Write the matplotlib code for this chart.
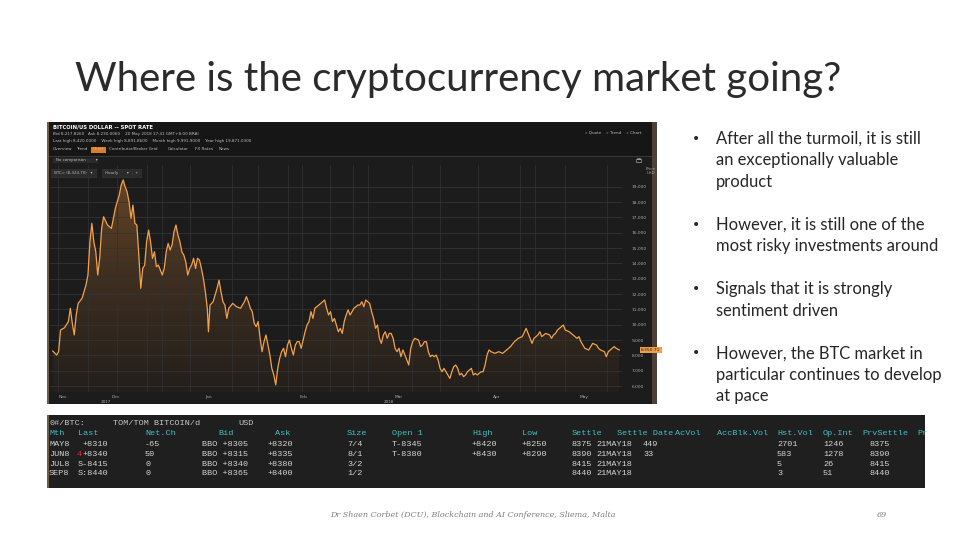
import matplotlib
matplotlib.use("Agg")
import matplotlib.pyplot as plt
import numpy as np
from matplotlib.colors import LinearSegmentedColormap
from matplotlib.patches import Rectangle, Polygon

# slide text
title = "Where is the cryptocurrency market going?"
bullets = [
    ["After all the turmoil, it is still", "an exceptionally valuable", "product"],
    ["However, it is still one of the", "most risky investments around"],
    ["Signals that it is strongly", "sentiment driven"],
    ["However, the BTC market in", "particular continues to develop", "at pace"],
]
footer = "Dr Shaen Corbet (DCU), Blockchain and AI Conference, Sliema, Malta"
page_no = "69"

# price chart (hourly BTC)
t = [20, 30, 35, 40, 50, 60, 65, 70, 75, 80, 85, 95, 105, 110, 115, 120, 125, 130,
     135, 140, 145, 150, 160, 170, 180, 185, 190, 195, 200, 205, 210, 215, 220, 225,
     230, 235, 240, 245, 250, 255, 260, 265, 270, 275, 280, 285, 290, 300, 305, 310,
     315, 320, 325, 330, 335, 340, 345, 350, 355, 360, 365, 370, 375, 380, 385, 390,
     395, 400, 405, 410, 415, 418, 422, 430, 440, 445, 450, 455, 460, 465, 470, 480,
     490, 500, 510, 515, 520, 525, 530, 535, 540, 545, 550, 555, 560, 565, 570, 575,
     580, 585, 590, 595, 600, 605, 610, 615, 620, 625, 630, 635, 640, 645, 650, 655,
     660, 665, 670, 675, 680, 685, 690, 700, 710, 715, 720, 725, 730, 735, 740, 745,
     750, 755, 760, 765, 770, 775, 780, 785, 790, 800, 805, 810, 815, 820, 825, 830,
     835, 840, 845, 850, 855, 860, 865, 870, 875, 880, 885, 890, 895, 900, 905, 910,
     915, 920, 925, 930, 935, 940, 945, 955, 960, 965, 970, 975, 980, 985, 990, 995,
     1000, 1005, 1010, 1015, 1020, 1025, 1030, 1035, 1040, 1045, 1050, 1055, 1060,
     1065, 1070, 1075, 1080, 1085, 1090, 1095, 1100, 1105, 1110, 1115, 1120, 1125,
     1130, 1135, 1140, 1150, 1160, 1170, 1180, 1190, 1200, 1210, 1220, 1230, 1235,
     1240, 1245, 1250, 1260, 1265, 1270, 1280, 1290, 1295, 1300, 1305, 1310, 1320,
     1325, 1330, 1340, 1350, 1360, 1365, 1370, 1375, 1380, 1390, 1400, 1410, 1415,
     1420, 1430, 1435, 1440, 1450, 1455, 1460, 1468]
price = [8280, 8020, 8240, 9650, 9800, 10200, 11070, 10090, 9330, 10630, 11390, 11720,
         12590, 13240, 15410, 16610, 15410, 14760, 13240, 14330, 16280, 17040, 16500,
         16280, 17590, 18020, 18460, 19110, 19440, 19000, 18670, 18020, 16940, 17800,
         16610, 16500, 14540, 12370, 13670, 13890, 15410, 16170, 15410, 14330, 14760,
         13780, 13890, 13240, 13670, 14760, 15300, 14870, 15200, 16070, 16500, 15850,
         15410, 14760, 14540, 14110, 13240, 13670, 13890, 14330, 13670, 14330, 14220,
         13670, 13020, 12150, 11070, 9540, 11280, 11500, 12370, 12910, 12150, 11500,
         11280, 10410, 11070, 11390, 11170, 11070, 11500, 11830, 11500, 11070, 10850,
         10090, 9870, 10200, 9110, 8240, 8890, 9330, 8670, 8020, 7150, 6720, 6070,
         7150, 7800, 8240, 8460, 7910, 8670, 9000, 8460, 8020, 8670, 8890, 8890, 8460,
         9000, 9540, 9980, 10200, 10850, 10410, 11070, 11280, 11500, 11610, 11070,
         10630, 10850, 10200, 10410, 9980, 9540, 9760, 9430, 10200, 10630, 10960,
         10630, 10850, 11070, 11280, 11280, 11500, 11170, 11610, 11500, 11390, 10850,
         10410, 9760, 9980, 9110, 8780, 9330, 9540, 9110, 9430, 9430, 9110, 8460, 8240,
         8460, 7910, 8350, 8020, 7700, 7370, 8460, 8890, 9110, 9000, 8570, 8670, 8890,
         8890, 8240, 7910, 8020, 7910, 8020, 7700, 7150, 6930, 7150, 6930, 6720, 6500,
         6930, 7260, 7370, 7150, 6720, 6830, 6610, 6720, 6930, 7040, 7150, 6720, 6830,
         6720, 6830, 6930, 6930, 7370, 8020, 8350, 8240, 8130, 8240, 8130, 8350, 8570,
         8890, 9110, 9220, 9760, 9430, 9110, 8780, 9110, 9330, 9540, 9220, 9430, 9330,
         9110, 9330, 9430, 9650, 9870, 9980, 9650, 9540, 9330, 9110, 9220, 8890, 8670,
         8460, 8350, 8780, 8670, 8460, 8350, 8240, 7910, 8240, 8460, 8570, 8460, 8350]
month_labels = ["Nov", "Dec", "Jan", "Feb", "Mar", "Apr", "May"]
month_pos = [45, 180, 418, 660, 905, 1155, 1378]
year_labels = ["2017", "2018"]
year_pos = [155, 880]
price_ticks = list(range(6000, 19001, 1000))
vgrid = [33, 110, 184, 261, 299, 371, 478, 544, 621, 657, 728, 787, 826, 938,
         1010, 1107, 1214, 1252, 1329, 1437]

# futures quote table
tbl_title = ["0#/BTC:", "TOM/TOM BITCOIN/d", "USD"]
tbl_head = ["Mth", "Last", "Net.Ch", "Bid", "Ask", "Size", "Open 1", "High", "Low",
            "Settle", "Settle Date", "AcVol", "AccBlk.Vol", "Hst.Vol", "Op.Int",
            "PrvSettle", "Pr"]
tbl_rows = [
    ["MAY8", "+8310", "-65", "BBO +8305", "+8320", "7/4", "T-8345", "+8420", "+8250",
     "8375", "21MAY18", "449", "", "2701", "1246", "8375", ""],
    ["JUN8", "+8340", "50", "BBO +8315", "+8335", "8/1", "T-8380", "+8430", "+8290",
     "8390", "21MAY18", "33", "", "583", "1278", "8390", ""],
    ["JUL8", "S-8415", "0", "BBO +8340", "+8380", "3/2", "", "", "",
     "8415", "21MAY18", "", "", "5", "26", "8415", ""],
    ["SEP8", "S:8440", "0", "BBO +8365", "+8400", "1/2", "", "", "",
     "8440", "21MAY18", "", "", "3", "51", "8440", ""],
]

W, H = 960, 540
fig = plt.figure(figsize=(9.6, 5.4), dpi=100)
fig.patch.set_facecolor("white")

page = fig.add_axes([0, 0, 1, 1])
page.set_xlim(0, W)
page.set_ylim(H, 0)
page.axis("off")


def px_axes(x0, y0, x1, y1):
    return fig.add_axes([x0 / W, 1 - y1 / H, (x1 - x0) / W, (y1 - y0) / H])


# title + bullets
page.text(75, 80, title, fontsize=29.0, family="Lato", fontweight="normal",
          color="#2b2b2b", va="center", ha="left")
y = 138.5
for group in bullets:
    page.text(692, y, "\u2022", fontsize=10, color="#262626", va="center", family="DejaVu Sans")
    for line in group:
        page.text(716, y, line, fontsize=11.9, family="Lato", color="#262626", va="center")
        y += 21.5
    y += 21.5

page.text(473, 515, footer, fontsize=5.8, family="DejaVu Serif", color="#7f7f7f",
          ha="center", va="center", style="italic")
page.text(882, 515, page_no, fontsize=5.8, family="DejaVu Serif", color="#7f7f7f",
          ha="center", va="center", style="italic")

# chart screenshot frame and header
page.add_patch(Rectangle((47, 122), 610, 282, facecolor="#1c1c1c", edgecolor="none"))
page.add_patch(Rectangle((47, 122), 2, 282, facecolor="#6e5c46", edgecolor="none"))
page.add_patch(Rectangle((652, 122), 5, 282, facecolor="#4d4036", edgecolor="none"))
page.add_patch(Rectangle((49, 122), 603, 35, facecolor="#161616", edgecolor="none"))
hc = "#bdbdbd"
page.text(53, 127, "BITCOIN/US DOLLAR -- SPOT RATE", fontsize=3.8, color="white",
          fontweight="bold", va="center")
page.text(53, 134, "Bid 8,217.8260   Ask 8,230.0060    20 May 2018 17:41 GMT+8:00 BRAI",
          fontsize=3.0, color=hc, va="center")
page.text(53, 141, "Last high 8,420.0000    Week high 8,891.8600    Month high 9,991.9000"
          "    Year high 19,871.0300", fontsize=3.0, color=hc, va="center")
tabs = ["Overview", "Trend", "Chart", "Contributor/Broker Grid", "Calculator", "FX Rates", "News"]
tx = 53
for name in tabs:
    wdt = len(name) * 2.3 + 3
    if name == "Chart":
        page.add_patch(Rectangle((tx - 1.5, 146.5), wdt, 6, facecolor="#e07b22", edgecolor="none"))
    page.text(tx, 149.5, name, fontsize=3.0, color=hc, va="center")
    tx += wdt + 2
page.text(585, 133, "\u00bb Quote    \u00bb Trend    \u00bb Chart", fontsize=3.0, color=hc, va="center")
page.add_patch(Rectangle((49, 156), 603, 0.8, facecolor="#383838", edgecolor="none"))
page.add_patch(Rectangle((53, 157.5), 45, 5.5, facecolor="#2b2b2b", edgecolor="none"))
page.text(56, 160.3, "No comparison        \u25be", fontsize=2.8, color=hc, va="center")
# small print icon
page.add_patch(Rectangle((636, 159), 5, 3, facecolor="none", edgecolor=hc, lw=0.4))
page.add_patch(Rectangle((637.2, 157.5), 2.6, 1.5, facecolor="none", edgecolor=hc, lw=0.4))

# price chart
ax = px_axes(50, 165, 622, 392)
ax.set_facecolor("#1c1c1c")
ylo, yhi = 5609, 20415
ax.set_xlim(13, 1475)
ax.set_ylim(ylo, yhi)
grad = np.linspace(0, 1, 256).reshape(-1, 1)
cmap = LinearSegmentedColormap.from_list("fill", ["#231f1b", "#3e2e20", "#6a4726"])
im = ax.imshow(grad, extent=[13, 1475, ylo, yhi], origin="lower", aspect="auto",
               cmap=cmap, zorder=1)
poly = Polygon(np.column_stack([t + [t[-1], t[0]], price + [ylo, ylo]]),
               facecolor="none", edgecolor="none")
ax.add_patch(poly)
im.set_clip_path(poly)
ax.plot(t, price, color="#f3a24c", lw=0.9, zorder=3)
ax.set_yticks(price_ticks)
ax.set_yticklabels([f"{v:,}" for v in price_ticks])
ax.yaxis.tick_right()
ax.set_xticks(month_pos)
ax.set_xticklabels(month_labels)
ax.set_xticks(vgrid, minor=True)
ax.tick_params(which="both", length=0, labelsize=3.2, colors="#a8a8a8")
ax.tick_params(axis="y", pad=7)
ax.tick_params(axis="x", pad=2)
ax.grid(axis="y", color="#333333", lw=0.6, zorder=0)
ax.grid(axis="x", which="minor", color="#303030", lw=0.6, zorder=0)
for s in ax.spines.values():
    s.set_visible(False)
for lab, pos in zip(year_labels, year_pos):
    ax.text(pos, -0.045, lab, transform=ax.get_xaxis_transform(), fontsize=3.0,
            color="#a8a8a8", ha="center", va="center")
ax.text(1.05, 0.975, "Price\nUSD", transform=ax.transAxes, fontsize=3.0,
        color="#a8a8a8", ha="center", va="center", linespacing=1.0)
ax.text(1.05, price[-1], f"{price[-1]:,}.71", transform=ax.get_yaxis_transform(),
        fontsize=3.2, color="#1c1c1c", ha="center", va="center", clip_on=False,
        bbox=dict(boxstyle="square,pad=0.3", fc="#f0a04b", ec="none"))
# toolbar controls drawn over the chart
ax.text(0.006, 0.965, " BTC= (8,324.70)   \u25be ", transform=ax.transAxes, fontsize=2.8,
        color=hc, va="center", bbox=dict(boxstyle="square,pad=0.5", fc="#2b2b2b", ec="#3a3a3a", lw=0.4))
ax.text(0.095, 0.965, " Hourly       \u25be ", transform=ax.transAxes, fontsize=2.8,
        color=hc, va="center", bbox=dict(boxstyle="square,pad=0.5", fc="#2b2b2b", ec="#3a3a3a", lw=0.4))
ax.text(0.146, 0.965, " + ", transform=ax.transAxes, fontsize=2.8,
        color=hc, va="center", bbox=dict(boxstyle="square,pad=0.5", fc="#2b2b2b", ec="#3a3a3a", lw=0.4))

# quote table screenshot
page.add_patch(Rectangle((47, 415), 878, 73, facecolor="#1f1f1f", edgecolor="none"))
page.add_patch(Rectangle((47, 415), 2, 73, facecolor="#6e5c46", edgecolor="none"))
mono = "Liberation Mono"
fs = 6.1
head_x = [49, 78, 145, 218, 275, 347, 392, 472, 522, 572, 617, 675, 717, 777, 823, 862, 917]
val_x = [49, 108, 145, 202, 268, 347, 392, 472, 522, 572, 596, 643, 717, 777, 823, 870, 917]
for lab, x in zip(tbl_title, [49, 113, 238]):
    page.text(x, 423.5, lab, fontsize=fs, family=mono, color="#c9c9c9", va="center")
for lab, x in zip(tbl_head, head_x):
    page.text(x, 433.5, lab, fontsize=fs, family=mono, color="#3fc3c6", va="center")
row_y = [444.5, 454.5, 464, 473.5]
for row, ry in zip(tbl_rows, row_y):
    for j, (val, x) in enumerate(zip(row, val_x)):
        page.text(x, ry, val, fontsize=fs, family=mono, color="#d4d4d4", va="center",
                  ha="right" if j == 1 else "left")
page.text(77, row_y[1], "4", fontsize=fs, family=mono, color="#e0302a", va="center")

fig.savefig("out.png", dpi=100, facecolor="white")
